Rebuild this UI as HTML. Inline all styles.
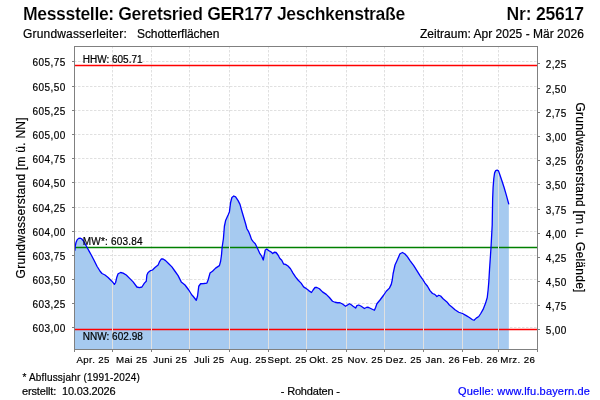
<!DOCTYPE html><html><head><meta charset="utf-8"><style>html,body{margin:0;padding:0;background:#fff;width:600px;height:400px;overflow:hidden}svg{display:block}svg{will-change:transform}text{font-family:"Liberation Sans",sans-serif;fill:#000;stroke:#000;stroke-width:0.2px}text.b{stroke:#fff;stroke-width:0.15px}</style></head><body>
<svg width="600" height="400" viewBox="0 0 600 400">
<defs><clipPath id="fc"><path d="M74.90,349 L74.90,250.75 L75.25,246.25 L76.00,242.50 L77.10,239.90 L78.60,238.40 L80.10,238.15 L81.60,238.75 L83.50,241.00 L85.40,244.40 L87.25,247.75 L89.10,251.10 L91.00,254.50 L93.90,260.00 L97.00,266.25 L100.10,271.25 L102.00,273.50 L105.00,275.00 L108.10,277.50 L110.60,280.00 L112.50,281.90 L114.40,284.40 L115.60,282.50 L116.90,276.90 L118.10,273.75 L120.60,272.50 L123.10,273.10 L126.25,275.00 L129.40,278.10 L133.10,281.90 L136.90,287.00 L139.40,287.60 L141.90,287.00 L144.40,283.10 L146.25,281.25 L146.90,275.00 L148.10,272.50 L150.60,270.60 L152.50,270.00 L155.00,267.50 L158.10,265.00 L159.40,261.90 L161.25,259.00 L163.10,259.00 L165.60,260.60 L168.75,263.75 L171.90,266.90 L175.00,271.25 L178.10,275.60 L181.25,281.90 L185.00,285.00 L188.75,290.00 L191.90,295.00 L193.10,296.25 L196.25,300.25 L197.50,296.25 L198.75,286.25 L200.60,283.75 L203.75,283.50 L206.90,283.10 L208.10,280.00 L210.00,273.10 L212.50,271.25 L215.60,268.10 L219.40,265.60 L220.60,261.25 L221.50,255.00 L222.10,247.50 L223.40,238.75 L224.40,226.25 L225.60,220.60 L228.10,215.00 L229.40,211.90 L230.60,202.50 L231.90,197.50 L233.75,196.00 L235.60,196.90 L238.10,200.60 L240.00,204.40 L241.90,211.25 L243.75,217.50 L245.60,223.75 L246.90,228.75 L248.75,231.90 L250.00,235.00 L251.50,239.40 L253.40,241.90 L255.25,243.75 L257.10,247.50 L259.60,253.10 L261.75,256.25 L263.25,260.00 L264.25,255.00 L265.25,250.00 L266.75,249.00 L268.60,250.60 L270.50,251.50 L272.75,253.50 L274.25,252.25 L276.10,252.50 L278.00,255.00 L279.90,258.50 L281.75,260.25 L283.60,264.00 L285.50,264.40 L288.00,266.00 L290.50,268.75 L293.00,273.10 L295.50,276.90 L298.00,280.00 L301.10,283.10 L303.60,286.90 L305.50,288.10 L308.75,290.60 L311.50,292.50 L313.10,290.00 L315.00,287.50 L316.90,287.50 L319.40,288.75 L322.50,291.90 L326.25,294.40 L329.40,297.50 L332.50,301.25 L335.00,302.25 L337.50,302.75 L340.00,302.75 L342.50,304.00 L345.60,306.25 L349.40,303.75 L351.25,304.75 L353.10,306.25 L355.60,308.10 L356.90,305.60 L358.75,305.00 L361.25,306.25 L364.40,308.50 L366.90,307.25 L368.75,307.50 L371.25,308.75 L374.40,310.25 L375.60,307.50 L376.90,303.75 L380.00,300.00 L383.75,295.00 L386.25,291.25 L389.40,288.10 L391.25,284.40 L392.25,280.00 L393.10,273.75 L395.00,265.00 L397.50,259.40 L400.00,253.75 L402.50,252.50 L405.00,254.00 L407.50,256.90 L410.00,260.60 L413.75,265.60 L416.90,270.60 L420.00,275.60 L423.10,280.00 L425.00,283.10 L427.50,286.25 L430.00,290.60 L432.50,293.50 L434.75,294.40 L436.90,296.50 L438.75,295.25 L440.60,296.00 L443.10,298.75 L446.90,301.90 L449.40,305.00 L451.90,306.90 L455.00,309.75 L458.75,312.25 L462.50,313.50 L466.25,315.60 L469.40,317.50 L472.50,319.75 L474.00,320.25 L476.25,318.10 L478.75,316.50 L480.60,313.75 L483.10,309.40 L485.60,303.10 L487.25,297.50 L488.10,290.00 L488.75,282.50 L489.50,270.00 L491.00,247.50 L492.20,225.00 L492.65,198.75 L493.10,187.50 L493.80,178.50 L494.60,172.90 L495.70,170.60 L497.15,170.10 L498.50,170.85 L499.60,174.00 L501.90,180.75 L504.10,187.50 L506.40,195.40 L508.85,204.40 L508.85,349 Z"/></clipPath></defs>
<path d="M74,61.5 H537 M74,86.5 H537 M74,110.5 H537 M74,134.5 H537 M74,158.5 H537 M74,182.5 H537 M74,207.5 H537 M74,231.5 H537 M74,255.5 H537 M74,279.5 H537 M74,303.5 H537 M74,327.5 H537 M112.5,46 V349 M151.5,46 V349 M189.5,46 V349 M229.5,46 V349 M268.5,46 V349 M306.5,46 V349 M346.5,46 V349 M384.5,46 V349 M423.5,46 V349 M462.5,46 V349 M498.5,46 V349" stroke="#e0e0e0" stroke-width="1" stroke-dasharray="2.5 1.5" fill="none"/>
<path d="M74.90,349 L74.90,250.75 L75.25,246.25 L76.00,242.50 L77.10,239.90 L78.60,238.40 L80.10,238.15 L81.60,238.75 L83.50,241.00 L85.40,244.40 L87.25,247.75 L89.10,251.10 L91.00,254.50 L93.90,260.00 L97.00,266.25 L100.10,271.25 L102.00,273.50 L105.00,275.00 L108.10,277.50 L110.60,280.00 L112.50,281.90 L114.40,284.40 L115.60,282.50 L116.90,276.90 L118.10,273.75 L120.60,272.50 L123.10,273.10 L126.25,275.00 L129.40,278.10 L133.10,281.90 L136.90,287.00 L139.40,287.60 L141.90,287.00 L144.40,283.10 L146.25,281.25 L146.90,275.00 L148.10,272.50 L150.60,270.60 L152.50,270.00 L155.00,267.50 L158.10,265.00 L159.40,261.90 L161.25,259.00 L163.10,259.00 L165.60,260.60 L168.75,263.75 L171.90,266.90 L175.00,271.25 L178.10,275.60 L181.25,281.90 L185.00,285.00 L188.75,290.00 L191.90,295.00 L193.10,296.25 L196.25,300.25 L197.50,296.25 L198.75,286.25 L200.60,283.75 L203.75,283.50 L206.90,283.10 L208.10,280.00 L210.00,273.10 L212.50,271.25 L215.60,268.10 L219.40,265.60 L220.60,261.25 L221.50,255.00 L222.10,247.50 L223.40,238.75 L224.40,226.25 L225.60,220.60 L228.10,215.00 L229.40,211.90 L230.60,202.50 L231.90,197.50 L233.75,196.00 L235.60,196.90 L238.10,200.60 L240.00,204.40 L241.90,211.25 L243.75,217.50 L245.60,223.75 L246.90,228.75 L248.75,231.90 L250.00,235.00 L251.50,239.40 L253.40,241.90 L255.25,243.75 L257.10,247.50 L259.60,253.10 L261.75,256.25 L263.25,260.00 L264.25,255.00 L265.25,250.00 L266.75,249.00 L268.60,250.60 L270.50,251.50 L272.75,253.50 L274.25,252.25 L276.10,252.50 L278.00,255.00 L279.90,258.50 L281.75,260.25 L283.60,264.00 L285.50,264.40 L288.00,266.00 L290.50,268.75 L293.00,273.10 L295.50,276.90 L298.00,280.00 L301.10,283.10 L303.60,286.90 L305.50,288.10 L308.75,290.60 L311.50,292.50 L313.10,290.00 L315.00,287.50 L316.90,287.50 L319.40,288.75 L322.50,291.90 L326.25,294.40 L329.40,297.50 L332.50,301.25 L335.00,302.25 L337.50,302.75 L340.00,302.75 L342.50,304.00 L345.60,306.25 L349.40,303.75 L351.25,304.75 L353.10,306.25 L355.60,308.10 L356.90,305.60 L358.75,305.00 L361.25,306.25 L364.40,308.50 L366.90,307.25 L368.75,307.50 L371.25,308.75 L374.40,310.25 L375.60,307.50 L376.90,303.75 L380.00,300.00 L383.75,295.00 L386.25,291.25 L389.40,288.10 L391.25,284.40 L392.25,280.00 L393.10,273.75 L395.00,265.00 L397.50,259.40 L400.00,253.75 L402.50,252.50 L405.00,254.00 L407.50,256.90 L410.00,260.60 L413.75,265.60 L416.90,270.60 L420.00,275.60 L423.10,280.00 L425.00,283.10 L427.50,286.25 L430.00,290.60 L432.50,293.50 L434.75,294.40 L436.90,296.50 L438.75,295.25 L440.60,296.00 L443.10,298.75 L446.90,301.90 L449.40,305.00 L451.90,306.90 L455.00,309.75 L458.75,312.25 L462.50,313.50 L466.25,315.60 L469.40,317.50 L472.50,319.75 L474.00,320.25 L476.25,318.10 L478.75,316.50 L480.60,313.75 L483.10,309.40 L485.60,303.10 L487.25,297.50 L488.10,290.00 L488.75,282.50 L489.50,270.00 L491.00,247.50 L492.20,225.00 L492.65,198.75 L493.10,187.50 L493.80,178.50 L494.60,172.90 L495.70,170.60 L497.15,170.10 L498.50,170.85 L499.60,174.00 L501.90,180.75 L504.10,187.50 L506.40,195.40 L508.85,204.40 L508.85,349 Z" fill="#a6caf0" stroke="none"/>
<path d="M75,65.5 H537 M75,329.5 H537" stroke="#ff0000" stroke-width="1.5"/>
<path d="M75,247.5 H537" stroke="#008000" stroke-width="1.5"/>
<path d="M112.5,47 V349 M151.5,47 V349 M189.5,47 V349 M229.5,47 V349 M268.5,47 V349 M306.5,47 V349 M346.5,47 V349 M384.5,47 V349 M423.5,47 V349 M462.5,47 V349 M498.5,47 V349" stroke="#e0e0e0" stroke-width="1" clip-path="url(#fc)" shape-rendering="crispEdges"/>
<path d="M74.90,250.75 L75.25,246.25 L76.00,242.50 L77.10,239.90 L78.60,238.40 L80.10,238.15 L81.60,238.75 L83.50,241.00 L85.40,244.40 L87.25,247.75 L89.10,251.10 L91.00,254.50 L93.90,260.00 L97.00,266.25 L100.10,271.25 L102.00,273.50 L105.00,275.00 L108.10,277.50 L110.60,280.00 L112.50,281.90 L114.40,284.40 L115.60,282.50 L116.90,276.90 L118.10,273.75 L120.60,272.50 L123.10,273.10 L126.25,275.00 L129.40,278.10 L133.10,281.90 L136.90,287.00 L139.40,287.60 L141.90,287.00 L144.40,283.10 L146.25,281.25 L146.90,275.00 L148.10,272.50 L150.60,270.60 L152.50,270.00 L155.00,267.50 L158.10,265.00 L159.40,261.90 L161.25,259.00 L163.10,259.00 L165.60,260.60 L168.75,263.75 L171.90,266.90 L175.00,271.25 L178.10,275.60 L181.25,281.90 L185.00,285.00 L188.75,290.00 L191.90,295.00 L193.10,296.25 L196.25,300.25 L197.50,296.25 L198.75,286.25 L200.60,283.75 L203.75,283.50 L206.90,283.10 L208.10,280.00 L210.00,273.10 L212.50,271.25 L215.60,268.10 L219.40,265.60 L220.60,261.25 L221.50,255.00 L222.10,247.50 L223.40,238.75 L224.40,226.25 L225.60,220.60 L228.10,215.00 L229.40,211.90 L230.60,202.50 L231.90,197.50 L233.75,196.00 L235.60,196.90 L238.10,200.60 L240.00,204.40 L241.90,211.25 L243.75,217.50 L245.60,223.75 L246.90,228.75 L248.75,231.90 L250.00,235.00 L251.50,239.40 L253.40,241.90 L255.25,243.75 L257.10,247.50 L259.60,253.10 L261.75,256.25 L263.25,260.00 L264.25,255.00 L265.25,250.00 L266.75,249.00 L268.60,250.60 L270.50,251.50 L272.75,253.50 L274.25,252.25 L276.10,252.50 L278.00,255.00 L279.90,258.50 L281.75,260.25 L283.60,264.00 L285.50,264.40 L288.00,266.00 L290.50,268.75 L293.00,273.10 L295.50,276.90 L298.00,280.00 L301.10,283.10 L303.60,286.90 L305.50,288.10 L308.75,290.60 L311.50,292.50 L313.10,290.00 L315.00,287.50 L316.90,287.50 L319.40,288.75 L322.50,291.90 L326.25,294.40 L329.40,297.50 L332.50,301.25 L335.00,302.25 L337.50,302.75 L340.00,302.75 L342.50,304.00 L345.60,306.25 L349.40,303.75 L351.25,304.75 L353.10,306.25 L355.60,308.10 L356.90,305.60 L358.75,305.00 L361.25,306.25 L364.40,308.50 L366.90,307.25 L368.75,307.50 L371.25,308.75 L374.40,310.25 L375.60,307.50 L376.90,303.75 L380.00,300.00 L383.75,295.00 L386.25,291.25 L389.40,288.10 L391.25,284.40 L392.25,280.00 L393.10,273.75 L395.00,265.00 L397.50,259.40 L400.00,253.75 L402.50,252.50 L405.00,254.00 L407.50,256.90 L410.00,260.60 L413.75,265.60 L416.90,270.60 L420.00,275.60 L423.10,280.00 L425.00,283.10 L427.50,286.25 L430.00,290.60 L432.50,293.50 L434.75,294.40 L436.90,296.50 L438.75,295.25 L440.60,296.00 L443.10,298.75 L446.90,301.90 L449.40,305.00 L451.90,306.90 L455.00,309.75 L458.75,312.25 L462.50,313.50 L466.25,315.60 L469.40,317.50 L472.50,319.75 L474.00,320.25 L476.25,318.10 L478.75,316.50 L480.60,313.75 L483.10,309.40 L485.60,303.10 L487.25,297.50 L488.10,290.00 L488.75,282.50 L489.50,270.00 L491.00,247.50 L492.20,225.00 L492.65,198.75 L493.10,187.50 L493.80,178.50 L494.60,172.90 L495.70,170.60 L497.15,170.10 L498.50,170.85 L499.60,174.00 L501.90,180.75 L504.10,187.50 L506.40,195.40 L508.85,204.40" stroke="#0000ff" stroke-width="1.3" fill="none" stroke-linejoin="round"/>
<rect x="74.5" y="46.5" width="463" height="303" fill="none" stroke="#808080" stroke-width="1" shape-rendering="crispEdges"/>
<path d="M72,61.5 H74 M72,86.5 H74 M72,110.5 H74 M72,134.5 H74 M72,158.5 H74 M72,182.5 H74 M72,207.5 H74 M72,231.5 H74 M72,255.5 H74 M72,279.5 H74 M72,303.5 H74 M72,327.5 H74 M538,63.5 H540 M538,88.5 H540 M538,112.5 H540 M538,136.5 H540 M538,160.5 H540 M538,184.5 H540 M538,209.5 H540 M538,233.5 H540 M538,257.5 H540 M538,281.5 H540 M538,305.5 H540 M538,329.5 H540 M74.5,350 V352 M112.5,350 V352 M151.5,350 V352 M189.5,350 V352 M229.5,350 V352 M268.5,350 V352 M306.5,350 V352 M346.5,350 V352 M384.5,350 V352 M423.5,350 V352 M462.5,350 V352 M498.5,350 V352 M537.5,350 V352" stroke="#808080" stroke-width="1" shape-rendering="crispEdges"/>
<text x="82.7" y="63" font-size="10" textLength="59.84" lengthAdjust="spacing" xml:space="preserve">HHW: 605.71</text>
<text x="82.7" y="245" font-size="10" textLength="59.81" lengthAdjust="spacing" xml:space="preserve">MW*: 603.84</text>
<text x="82.7" y="340" font-size="10" textLength="60.14" lengthAdjust="spacing" xml:space="preserve">NNW: 602.98</text>
<text x="32.6" y="66" font-size="10" textLength="32.6" lengthAdjust="spacing" xml:space="preserve">605,75</text>
<text x="32.6" y="91" font-size="10" textLength="32.6" lengthAdjust="spacing" xml:space="preserve">605,50</text>
<text x="32.6" y="115" font-size="10" textLength="32.6" lengthAdjust="spacing" xml:space="preserve">605,25</text>
<text x="32.6" y="139" font-size="10" textLength="32.6" lengthAdjust="spacing" xml:space="preserve">605,00</text>
<text x="32.6" y="163" font-size="10" textLength="32.6" lengthAdjust="spacing" xml:space="preserve">604,75</text>
<text x="32.6" y="187" font-size="10" textLength="32.6" lengthAdjust="spacing" xml:space="preserve">604,50</text>
<text x="32.6" y="212" font-size="10" textLength="32.6" lengthAdjust="spacing" xml:space="preserve">604,25</text>
<text x="32.6" y="236" font-size="10" textLength="32.6" lengthAdjust="spacing" xml:space="preserve">604,00</text>
<text x="32.6" y="260" font-size="10" textLength="32.6" lengthAdjust="spacing" xml:space="preserve">603,75</text>
<text x="32.6" y="284" font-size="10" textLength="32.6" lengthAdjust="spacing" xml:space="preserve">603,50</text>
<text x="32.6" y="308" font-size="10" textLength="32.6" lengthAdjust="spacing" xml:space="preserve">603,25</text>
<text x="32.6" y="332" font-size="10" textLength="32.6" lengthAdjust="spacing" xml:space="preserve">603,00</text>
<text x="545.7" y="68" font-size="10" textLength="20.6" lengthAdjust="spacing" xml:space="preserve">2,25</text>
<text x="545.7" y="93" font-size="10" textLength="20.6" lengthAdjust="spacing" xml:space="preserve">2,50</text>
<text x="545.7" y="117" font-size="10" textLength="20.6" lengthAdjust="spacing" xml:space="preserve">2,75</text>
<text x="545.7" y="141" font-size="10" textLength="20.6" lengthAdjust="spacing" xml:space="preserve">3,00</text>
<text x="545.7" y="165" font-size="10" textLength="20.6" lengthAdjust="spacing" xml:space="preserve">3,25</text>
<text x="545.7" y="189" font-size="10" textLength="20.6" lengthAdjust="spacing" xml:space="preserve">3,50</text>
<text x="545.7" y="214" font-size="10" textLength="20.6" lengthAdjust="spacing" xml:space="preserve">3,75</text>
<text x="545.7" y="238" font-size="10" textLength="20.6" lengthAdjust="spacing" xml:space="preserve">4,00</text>
<text x="545.7" y="262" font-size="10" textLength="20.6" lengthAdjust="spacing" xml:space="preserve">4,25</text>
<text x="545.7" y="286" font-size="10" textLength="20.6" lengthAdjust="spacing" xml:space="preserve">4,50</text>
<text x="545.7" y="310" font-size="10" textLength="20.6" lengthAdjust="spacing" xml:space="preserve">4,75</text>
<text x="545.7" y="334" font-size="10" textLength="20.6" lengthAdjust="spacing" xml:space="preserve">5,00</text>
<text x="93.0" y="363" font-size="9.7" text-anchor="middle" textLength="32.97" lengthAdjust="spacing" xml:space="preserve">Apr. 25</text>
<text x="131.5" y="363" font-size="9.7" text-anchor="middle" textLength="31.22" lengthAdjust="spacing" xml:space="preserve">Mai 25</text>
<text x="170.0" y="363" font-size="9.7" text-anchor="middle" textLength="33.54" lengthAdjust="spacing" xml:space="preserve">Juni 25</text>
<text x="209.0" y="363" font-size="9.7" text-anchor="middle" textLength="30.06" lengthAdjust="spacing" xml:space="preserve">Juli 25</text>
<text x="248.5" y="363" font-size="9.7" text-anchor="middle" textLength="35.86" lengthAdjust="spacing" xml:space="preserve">Aug. 25</text>
<text x="287.0" y="363" font-size="9.7" text-anchor="middle" textLength="38.76" lengthAdjust="spacing" xml:space="preserve">Sept. 25</text>
<text x="326.0" y="363" font-size="9.7" text-anchor="middle" textLength="33.54" lengthAdjust="spacing" xml:space="preserve">Okt. 25</text>
<text x="365.0" y="363" font-size="9.7" text-anchor="middle" textLength="35.08" lengthAdjust="spacing" xml:space="preserve">Nov. 25</text>
<text x="403.5" y="363" font-size="9.7" text-anchor="middle" textLength="35.85" lengthAdjust="spacing" xml:space="preserve">Dez. 25</text>
<text x="442.5" y="363" font-size="9.7" text-anchor="middle" textLength="34.12" lengthAdjust="spacing" xml:space="preserve">Jan. 26</text>
<text x="480.0" y="363" font-size="9.7" text-anchor="middle" textLength="35.28" lengthAdjust="spacing" xml:space="preserve">Feb. 26</text>
<text x="517.5" y="363" font-size="9.7" text-anchor="middle" textLength="34.68" lengthAdjust="spacing" xml:space="preserve">Mrz. 26</text>
<text transform="translate(25,197.9) rotate(-90)" font-size="12" text-anchor="middle" textLength="161" lengthAdjust="spacing">Grundwasserstand [m ü. NN]</text>
<text transform="translate(576,197.4) rotate(90)" font-size="12" text-anchor="middle" textLength="190" lengthAdjust="spacing">Grundwasserstand [m u. Gelände]</text>
<text x="23" y="20" font-size="17.6" font-weight="bold" class="b" textLength="382.19" lengthAdjust="spacing" xml:space="preserve">Messstelle: Geretsried GER177 Jeschkenstraße</text>
<text x="506.6" y="20" font-size="17.6" font-weight="bold" class="b" textLength="77.36" lengthAdjust="spacing" xml:space="preserve">Nr: 25617</text>
<text x="23" y="38" font-size="12" textLength="103.72" lengthAdjust="spacing" xml:space="preserve">Grundwasserleiter:</text>
<text x="137" y="38" font-size="12" textLength="82.39" lengthAdjust="spacing" xml:space="preserve">Schotterflächen</text>
<text x="420" y="38" font-size="12" textLength="163.82" lengthAdjust="spacing" xml:space="preserve">Zeitraum: Apr 2025 - Mär 2026</text>
<text x="22.4" y="381" font-size="10" textLength="117.46" lengthAdjust="spacing" xml:space="preserve">* Abflussjahr (1991-2024)</text>
<text x="22" y="395" font-size="11" textLength="93.62" lengthAdjust="spacing" xml:space="preserve">erstellt:  10.03.2026</text>
<text x="280.8" y="395" font-size="11" textLength="59.16" lengthAdjust="spacing" xml:space="preserve">- Rohdaten -</text>
<text x="458" y="395" font-size="11" textLength="131.9" lengthAdjust="spacing" style="fill:#0000ff;stroke:#0000ff" xml:space="preserve">Quelle: www.lfu.bayern.de</text>
</svg></body></html>
